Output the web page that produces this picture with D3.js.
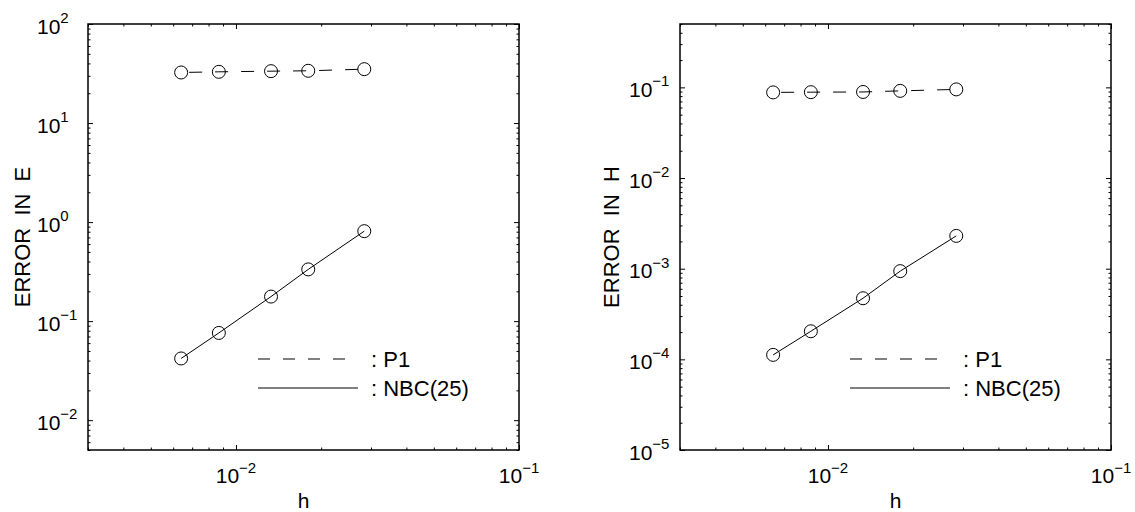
<!DOCTYPE html>
<html>
<head>
<meta charset="utf-8">
<script src="https://cdn.jsdelivr.net/npm/d3@7"></script>
<style>
body { margin: 0; background: #fff; }
svg { display: block; font-family: "Liberation Sans", Arial, sans-serif; }
</style>
</head>
<body>
<div id="chart-area"></div>
<script>
// mesh sizes h
var hValues = [0.0064, 0.0087, 0.0133, 0.0180, 0.0284];

// error in E
var errorE_P1 = [32.4, 32.9, 33.4, 33.7, 35.0];
var errorE_NBC = [0.042, 0.076, 0.177, 0.333, 0.81];

// error in H
var errorH_P1 = [0.088, 0.0885, 0.089, 0.0915, 0.095];
var errorH_NBC = [1.12e-4, 2.04e-4, 4.72e-4, 9.4e-4, 2.3e-3];

// tick exponents
var xTickExps = [-2, -1];
var yTickExpsE = [-2, -1, 0, 1, 2];
var yTickExpsH = [-5, -4, -3, -2, -1];

var legendLabels = [": P1", ": NBC(25)"];
var yLabels = ["ERROR  IN  E", "ERROR  IN  H"];

var W = 1135, H = 512;
var width = 431, height = 426;

var svg = d3.select("#chart-area")
	.append("svg")
		.attr("width", W)
		.attr("height", H);

var panels = [
	{left: 88, yDomain: [0.005, 100], yExps: yTickExpsE, p1: errorE_P1, nbc: errorE_NBC, label: yLabels[0], labelX: -58},
	{left: 680, yDomain: [1e-5, 0.5], yExps: yTickExpsH, p1: errorH_P1, nbc: errorH_NBC, label: yLabels[1], labelX: -61}
];

function expText(d) {
	return d < 0 ? "\u2212" + (-d) : "" + d;
}

panels.forEach(function(p) {
	var g = svg.append("g")
		.attr("transform", "translate(" + p.left + ", 24)");

	var x = d3.scaleLog().domain([0.003, 0.1]).range([0, width]);
	var y = d3.scaleLog().domain(p.yDomain).range([height, 0]);

	var isMajor = function(v) {
		var l = Math.log10(v);
		return Math.abs(l - Math.round(l)) < 1e-9;
	};
	var xMinor = x.ticks().filter(function(v){ return !isMajor(v); });
	var yMinor = y.ticks().filter(function(v){ return !isMajor(v); });
	var xMajor = xTickExps.map(function(e){ return Math.pow(10, e); });
	var yMajor = p.yExps.map(function(e){ return Math.pow(10, e); });

	//ticks on all four sides, pointing in
	var axes = [
		{gen: d3.axisBottom, sc: x, t: "translate(0," + height + ")"},
		{gen: d3.axisTop, sc: x, t: "translate(0,0)"},
		{gen: d3.axisLeft, sc: y, t: "translate(0,0)"},
		{gen: d3.axisRight, sc: y, t: "translate(" + width + ",0)"}
	];
	axes.forEach(function(a) {
		var isX = (a.sc === x);
		[[isX ? xMinor : yMinor, 2.5], [isX ? xMajor : yMajor, 5]].forEach(function(set) {
			var ax = g.append("g")
				.attr("transform", a.t)
				.call(a.gen(a.sc).tickValues(set[0]).tickSize(-set[1]).tickSizeOuter(0).tickFormat(""));
			ax.select(".domain").remove();
			ax.selectAll("line").attr("stroke", "#000").attr("stroke-width", 1);
		});
	});

	//box
	g.append("rect")
		.attr("width", width)
		.attr("height", height)
		.attr("fill", "none")
		.attr("stroke", "#000")
		.attr("stroke-width", 1.5);

	//y tick labels
	g.selectAll(".ylab").data(p.yExps).enter()
		.append("text")
			.attr("class", "ylab")
			.attr("x", -51)
			.attr("y", function(d){ return y(Math.pow(10, d)) + 9.5; })
			.attr("font-size", 21)
			.text("10")
		.append("tspan")
			.attr("dy", -10.5)
			.attr("font-size", 15)
			.text(function(d){ return expText(d); });

	//x tick labels
	g.selectAll(".xlab").data(xTickExps).enter()
		.append("text")
			.attr("class", "xlab")
			.attr("x", function(d){ return x(Math.pow(10, d)); })
			.attr("y", height + 33)
			.attr("text-anchor", "middle")
			.attr("font-size", 21)
			.text("10")
		.append("tspan")
			.attr("dy", -10.5)
			.attr("font-size", 15)
			.text(function(d){ return expText(d); });

	//axis labels
	g.append("text")
		.attr("x", width / 2)
		.attr("y", height + 58)
		.attr("text-anchor", "middle")
		.attr("font-size", 21)
		.text("h");

	g.append("text")
		.attr("transform", "translate(" + p.labelX + "," + (height / 2) + ") rotate(-90)")
		.attr("text-anchor", "middle")
		.attr("font-size", 22)
		.style("white-space", "pre")
		.text(p.label);

	//series
	var line = d3.line()
		.x(function(d){ return x(d[0]); })
		.y(function(d){ return y(d[1]); });

	var series = [
		{vals: p.p1, dash: "13,13", offset: 18},
		{vals: p.nbc, dash: null, offset: 0}
	];
	series.forEach(function(s) {
		var pts = hValues.map(function(h, i){ return [h, s.vals[i]]; });
		g.append("path")
			.datum(pts)
			.attr("d", line)
			.attr("fill", "none")
			.attr("stroke", "#000")
			.attr("stroke-width", 1)
			.attr("stroke-dasharray", s.dash)
			.attr("stroke-dashoffset", s.offset);
		g.selectAll(null).data(pts).enter()
			.append("circle")
				.attr("cx", function(d){ return x(d[0]); })
				.attr("cy", function(d){ return y(d[1]); })
				.attr("r", 6.5)
				.attr("fill", "none")
				.attr("stroke", "#000")
				.attr("stroke-width", 1);
	});

	//legend
	var legendY = [335, 364];
	legendLabels.forEach(function(lab, i) {
		g.append("line")
			.attr("x1", 170).attr("x2", 270)
			.attr("y1", legendY[i]).attr("y2", legendY[i])
			.attr("stroke", "#000")
			.attr("stroke-width", 1)
			.attr("stroke-dasharray", i == 0 ? "12,13" : null);
		g.append("text")
			.attr("x", 283)
			.attr("y", legendY[i] + 7.5)
			.attr("font-size", 22)
			.style("white-space", "pre")
			.text(lab);
	});
});
</script>
</body>
</html>
